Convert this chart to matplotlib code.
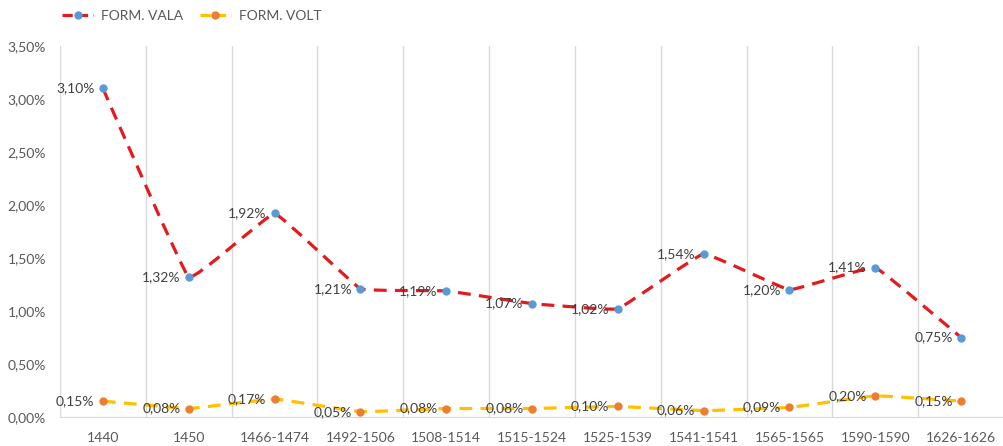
import matplotlib.pyplot as plt
import numpy as np
from matplotlib.path import Path
from matplotlib.patches import PathPatch
from matplotlib.lines import Line2D

periods = ['1440', '1450', '1466-1474', '1492-1506', '1508-1514', '1515-1524',
           '1525-1539', '1541-1541', '1565-1565', '1590-1590', '1626-1626']
vala = [3.10, 1.32, 1.92, 1.21, 1.19, 1.07, 1.02, 1.54, 1.20, 1.41, 0.75]
volt = [0.15, 0.08, 0.17, 0.05, 0.08, 0.08, 0.10, 0.06, 0.09, 0.20, 0.15]

TXT = '#595959'


def smooth_path(x, y, k=30.0):
    # gentle bezier segments through every point
    pts = np.column_stack([x, y]).astype(float)
    n = len(pts)
    verts = [pts[0]]
    codes = [Path.MOVETO]
    for i in range(n - 1):
        p0 = pts[max(i - 1, 0)]
        p1 = pts[i]
        p2 = pts[i + 1]
        p3 = pts[min(i + 2, n - 1)]
        c1 = p1 + (p2 - p0) / k
        c2 = p2 - (p3 - p1) / k
        verts += [c1, c2, p2]
        codes += [Path.CURVE4] * 3
    return Path(verts, codes)


def fmt(v):
    return '{:.2f}%'.format(v).replace('.', ',')


def draw_series(ax, vals, line_color, marker_color):
    x = np.arange(len(vals))
    patch = PathPatch(smooth_path(x, vals), fill=False, edgecolor=line_color,
                      lw=2.3, linestyle=(0, (4, 2.6)), zorder=3)
    ax.add_patch(patch)
    ax.plot(x, vals, ls='none', marker='o', ms=5, color=marker_color, zorder=4)
    for xi, v in zip(x, vals):
        ax.annotate(fmt(v), (xi, v), xytext=(-6, 0), textcoords='offset points',
                    ha='right', va='center', fontsize=10, color='#404040', zorder=5)


def plot():
    plt.rc('font', family=['Lato', 'DejaVu Sans'])
    fig = plt.figure(figsize=(10.04, 4.46), dpi=100)
    ax = fig.add_axes([60 / 1004, 29 / 446, 944 / 1004, 371 / 446])

    draw_series(ax, vala, '#E41A1C', '#5B9BD5')
    draw_series(ax, volt, '#FFC000', '#ED7D31')

    ax.set_xlim(-0.5, len(periods) - 0.5)
    ax.set_ylim(0, 3.5)
    ax.set_xticks(range(len(periods)))
    ax.set_xticklabels(periods)
    ax.set_xticks(np.arange(-0.5, len(periods)), minor=True)
    ax.grid(True, which='minor', axis='x', color='#D9D9D9', lw=1)
    ax.tick_params(which='both', length=0, colors=TXT, labelsize=10)
    ax.tick_params(axis='x', pad=11)
    ax.tick_params(axis='y', pad=10)
    ax.set_yticks(np.arange(0, 3.51, 0.5))
    ax.set_yticklabels([fmt(v) for v in np.arange(0, 3.51, 0.5)])

    for s in ['top', 'right', 'left']:
        ax.spines[s].set_visible(False)
    ax.spines['bottom'].set_color('#D9D9D9')

    handles = [
        Line2D([], [], color='#E41A1C', lw=2.3, ls=(0, (3.2, 1.6)), marker='o',
               ms=5, mfc='#5B9BD5', mec='#5B9BD5'),
        Line2D([], [], color='#FFC000', lw=2.3, ls=(0, (3.2, 1.6)), marker='o',
               ms=5, mfc='#ED7D31', mec='#ED7D31'),
    ]
    fig.legend(handles, ['FORM. VALA', 'FORM. VOLT'], loc='upper left',
               bbox_to_anchor=(50 / 1004, 1.005), ncol=2, frameon=False,
               fontsize=10, labelcolor=TXT, handlelength=2.2, columnspacing=1.2,
               handletextpad=0.6)

    plt.savefig('out.png', dpi=100)


if __name__ == '__main__':
    plot()
